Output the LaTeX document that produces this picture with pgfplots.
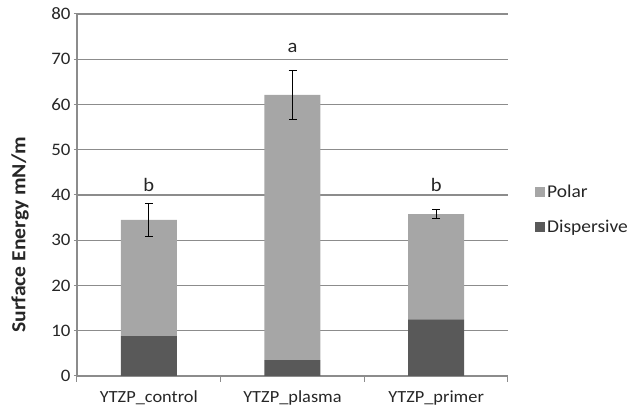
\documentclass[border=0pt]{standalone}
\usepackage{pgfplots}
\pgfplotsset{compat=1.18}
\usepackage{fontspec}
\setmainfont{Carlito}[FakeStretch=1.08]
\definecolor{polar}{HTML}{A6A6A6}
\definecolor{disp}{HTML}{595959}
\definecolor{gridc}{HTML}{8C8C8C}
\begin{document}
\begin{tikzpicture}
\useasboundingbox (-77pt,-39pt) rectangle (561pt,376pt);
\begin{axis}[
  at={(0,0)}, anchor=south west,
  scale only axis, width=431pt, height=362pt,
  ybar stacked, bar width=56pt,
  xmin=-0.5, xmax=2.5, ymin=0, ymax=80,
  ytick={0,10,...,80},
  xtick={0,1,2},
  xticklabels={YTZP\_control,YTZP\_plasma,YTZP\_primer},
  x tick style={draw=none},
  extra x ticks={-0.5,0.5,1.5,2.5},
  extra x tick labels={},
  extra x tick style={x tick style={draw=gridc,line width=1pt}, major tick length=6pt, tick align=outside},
  y tick style={draw=gridc,line width=1pt},
  major tick length=6pt, tick align=outside,
  axis x line=bottom, axis y line=left,
  axis line style={draw=gridc,line width=1.2pt,-},
  ymajorgrids, grid style={draw=gridc,line width=1.2pt},
  tick label style={font=\fontsize{17.5}{17.5}\selectfont, text=black!85},
  /pgf/number format/assume math mode=true,
  xticklabel style={yshift=-8pt, font=\fontsize{17}{17}\selectfont},
  ylabel={\bfseries Surface Energy mN/m},
  ylabel style={font=\fontsize{20}{20}\selectfont, text=black!85,
    at={(axis description cs:-0.132,0.39)}, anchor=center},
  legend style={at={(1.0,0.46)}, anchor=west, xshift=27pt, draw=none, fill=none,
    font=\fontsize{18}{18}\selectfont, text=black!85, row sep=17pt, legend cell align=left,
    inner sep=0pt},
  legend image code/.code={\draw[#1,draw=none] (0cm,-5pt) rectangle (10pt,5pt);},
  reverse legend,
]
\addplot[fill=disp, draw=none] coordinates {(0,8.8) (1,3.5) (2,12.5)};
\addplot[fill=polar, draw=none] coordinates {(0,25.7) (1,58.6) (2,23.3)};
\legend{Dispersive,Polar}
\end{axis}
\begin{axis}[
  at={(0,0)}, anchor=south west,
  scale only axis, width=431pt, height=362pt,
  xmin=-0.5, xmax=2.5, ymin=0, ymax=80,
  axis lines=none,
]
\addplot[draw=none, mark=none, error bars/.cd, y dir=both, y explicit,
  error mark options={rotate=90, mark size=4pt, line width=1pt}, error bar style={line width=1pt}]
  coordinates {(0,34.5) +- (0,3.7) (1,62.1) +- (0,5.4) (2,35.8) +- (0,1.0)};
\addplot[draw=none, mark=none, nodes near coords, point meta=explicit symbolic,
  nodes near coords align={center},
  every node near coord/.append style={font=\fontsize{19}{19}\selectfont, text=black!85}]
  coordinates {(0,42.3)[b] (1,72.6)[a] (2,42.3)[b]};
\end{axis}
\end{tikzpicture}
\end{document}
